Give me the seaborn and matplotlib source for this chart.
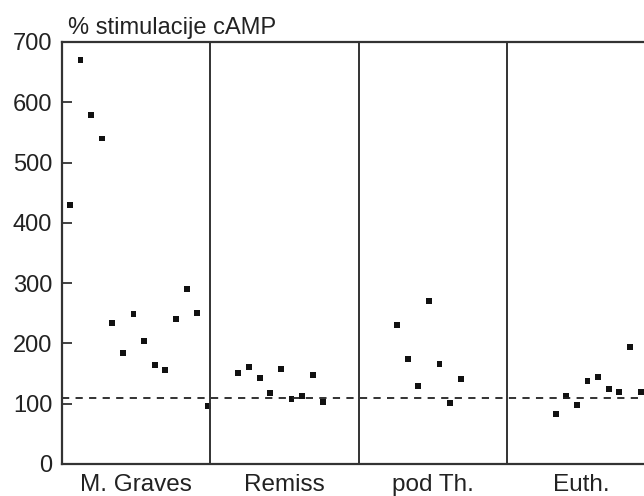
import seaborn as sns
import numpy as np
import pandas as pd
import matplotlib.pyplot as plt

# skupine i vrijednosti (% stimulacije cAMP), ocitano sa slike
groups = ['M. Graves', 'Remiss', 'pod Th.', 'Euth.']
graves = [430, 670, 579, 540, 234, 184, 249, 204, 164, 156, 240, 290, 250, 96]
remiss = [151, 161, 143, 118, 158, 108, 113, 148, 103]
pod_th = [230, 174, 129, 270, 166, 101, 141]
euth = [83, 113, 98, 138, 144, 124, 119, 194, 119]
cutoff = 110

# pomak prve tocke u svakom polju i razmak izmedu tocaka
start = [0.053, 0.19, 0.26, 0.33]
step = 0.0716

rows = []
for g, (name, vals) in enumerate(zip(groups, [graves, remiss, pod_th, euth])):
    for i, v in enumerate(vals):
        rows.append({'grupa': name, 'x': g + start[g] + i * step, 'cAMP': v})
df = pd.DataFrame(rows)

sns.set_style('white')
plt.rcParams['font.family'] = ['Liberation Sans', 'DejaVu Sans']

fig = plt.figure(figsize=(6.44, 4.96), dpi=100)
ax = fig.add_axes([62 / 644, 32 / 496, 593 / 644, 422 / 496])

sns.scatterplot(data=df, x='x', y='cAMP', marker='s', s=18, color='#111111',
                edgecolor='none', legend=False, ax=ax)

ax.axhline(cutoff, color='#222222', lw=1.3, ls=(0, (4, 3.5)))
for b in range(1, len(groups)):
    ax.axvline(b, color='#333333', lw=1.4)

ax.set_xlim(0, len(groups))
ax.set_ylim(0, 700)
ax.set_yticks(range(0, 701, 100))
ax.set_xticks(np.arange(len(groups)) + 0.5)
ax.set_xticklabels(groups)
ax.tick_params(axis='y', direction='in', length=7, width=1.3, color='#333333',
               labelsize=17, pad=7, left=True, labelcolor='#222222')
ax.tick_params(axis='x', length=0, labelsize=17.5, pad=7, labelcolor='#222222')
ax.set_xlabel('')
ax.set_ylabel('')
for sp in ax.spines.values():
    sp.set_color('#333333')
    sp.set_linewidth(1.6)

fig.text(68 / 644, 1 - 34 / 496, '% stimulacije cAMP', fontsize=17, color='#222222')

plt.savefig('out.png', dpi=100)
